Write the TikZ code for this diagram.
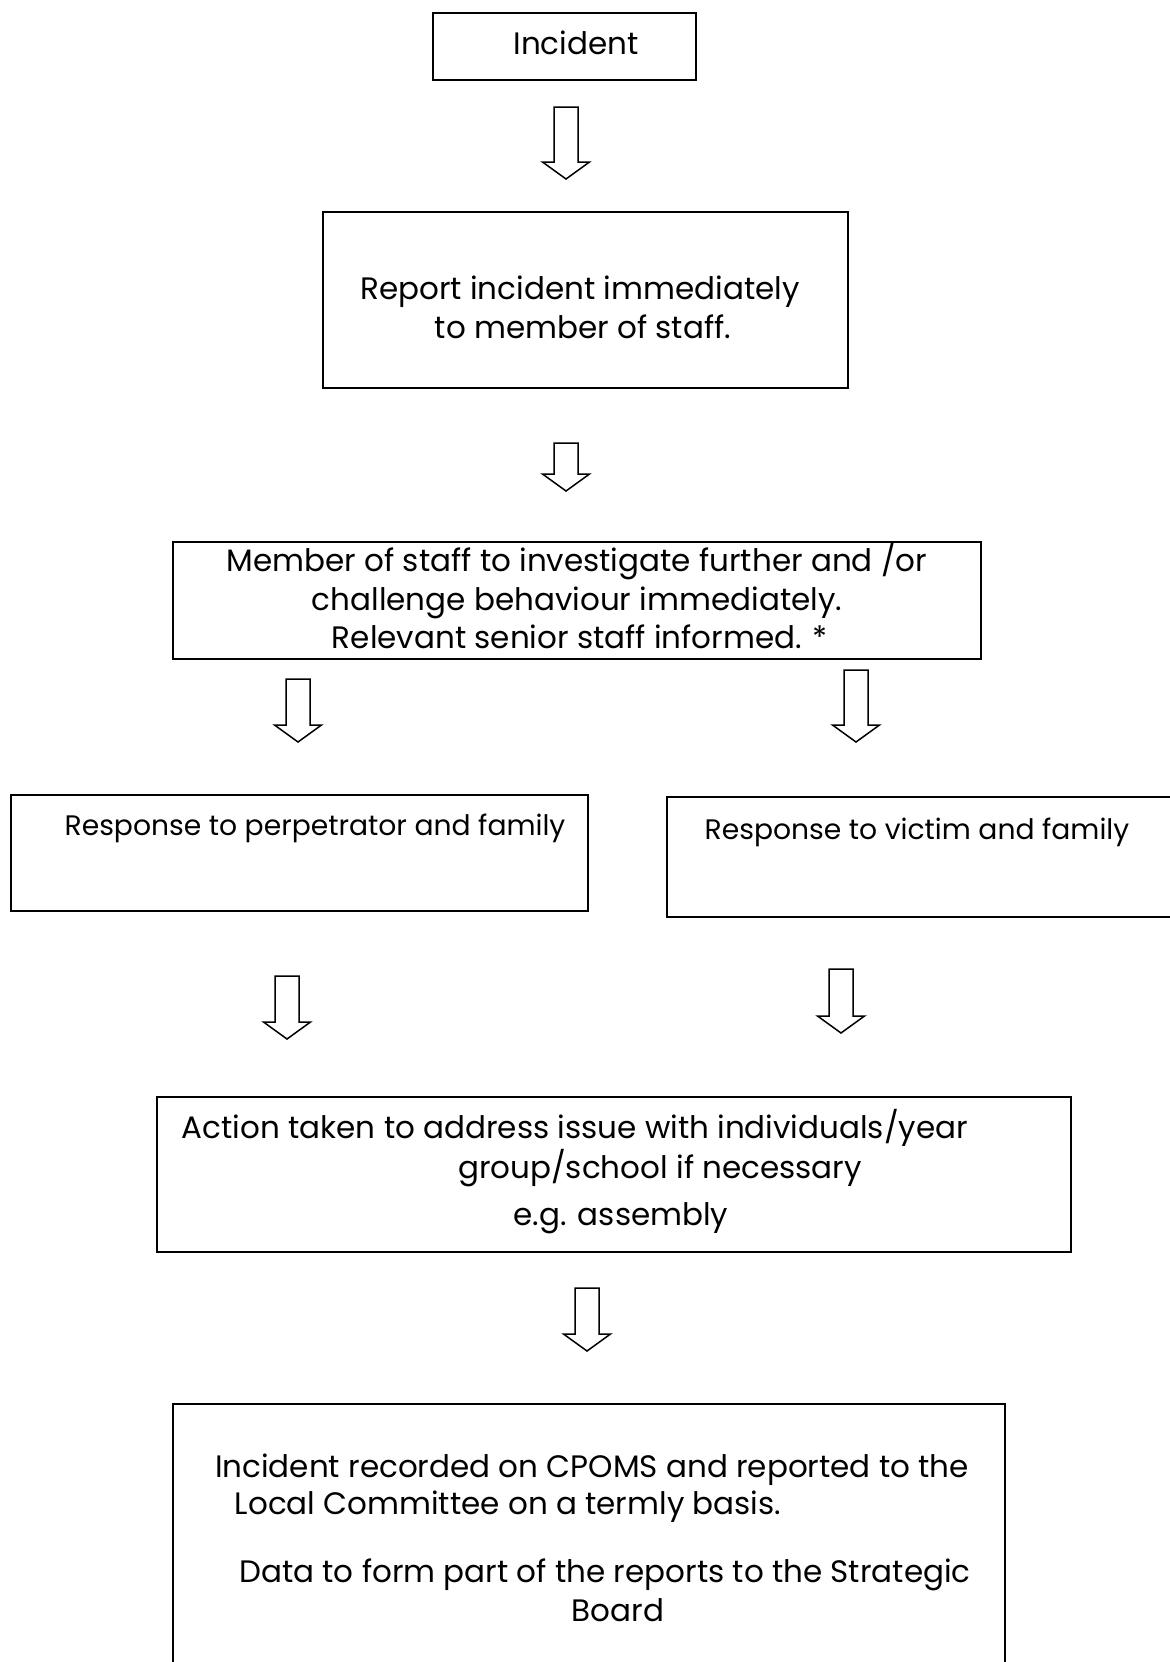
\documentclass[tikz,border=0pt]{standalone}
\usepackage{fontspec}
\setmainfont{Poppins}
\begin{document}
\begin{tikzpicture}[x=0.5pt,y=-0.5pt,
  box/.style={draw, line width=0.9pt, inner sep=0pt, rectangle},
  bsize/.style 2 args={minimum width=#1*0.5pt, minimum height=#2*0.5pt},
  txt/.style={inner sep=0pt, anchor=mid, yshift=-3pt, font=\fontsize{15.5}{18}\selectfont},
  smalltxt/.style={txt, font=\fontsize{14.1}{17}\selectfont},
  arr/.style={draw, line width=0.75pt, line join=miter, fill=white}]
\useasboundingbox (0,0) rectangle (1170,1662);
\newcommand\blockarrow[4]{%
  \coordinate (#1-top) at (#2,#3);
  \coordinate (#1-tip) at (#2,#4);
  \draw[arr] ({#2-12},#3) -- ({#2+12},#3) -- ({#2+12},{#4-17}) -- ({#2+23.5},{#4-17})
    -- (#1-tip) -- ({#2-23.5},{#4-17}) -- ({#2-12},{#4-17}) -- cycle;}
% boxes
\node[box, bsize={263}{67}] (b1) at (564.5,46.5) {};
\node[box, bsize={525}{176}] (b2) at (585.5,300) {};
\node[box, bsize={808}{117}] (b3) at (577,600.5) {};
\node[box, bsize={577}{116}] (bL) at (299.5,853) {};
\node[box, bsize={513}{120}] (bR) at (923.5,857) {};
\node[box, bsize={914}{155}] (b4) at (614,1174.5) {};
\node[box, bsize={832}{296}] (b5) at (589,1552) {};
% texts
\node[txt] (t1) at (576,43) {Incident};
\node[txt] (t2a) at (580,288) {Report incident immediately};
\node[txt] (t2b) at (583,327) {to member of staff.};
\node[txt] (t3a) at (577,560) {Member of staff to investigate further and /or};
\node[txt] (t3b) at (577,599) {challenge behaviour immediately.};
\node[txt] (t3c) at (580,637) {Relevant senior staff informed. *};
\node[smalltxt] (tL) at (315,824) {Response to perpetrator and family};
\node[smalltxt] (tR) at (917,828) {Response to victim and family};
\node[txt] (t4a) at (575,1127) {Action taken to address issue with individuals/year};
\node[txt] (t4b) at (660,1167) {group/school if necessary};
\node[txt] (t4c) at (621,1214) {e.g. assembly};
\node[txt] (t5a) at (592,1466) {Incident recorded on CPOMS and reported to the};
\node[txt] (t5b) at (508,1503) {Local Committee on a termly basis.};
\node[txt] (t5c) at (605,1571) {Data to form part of the reports to the Strategic};
\node[txt] (t5d) at (618,1610) {Board};
% arrows
\blockarrow{a1}{566}{107}{179}
\blockarrow{a2}{566}{443}{491}
\blockarrow{a3}{298}{679}{742}
\blockarrow{a4}{856}{670}{742}
\blockarrow{a5}{287}{976}{1039}
\blockarrow{a6}{841}{969}{1033}
\blockarrow{a7}{587}{1288}{1351}
\end{tikzpicture}
\end{document}
